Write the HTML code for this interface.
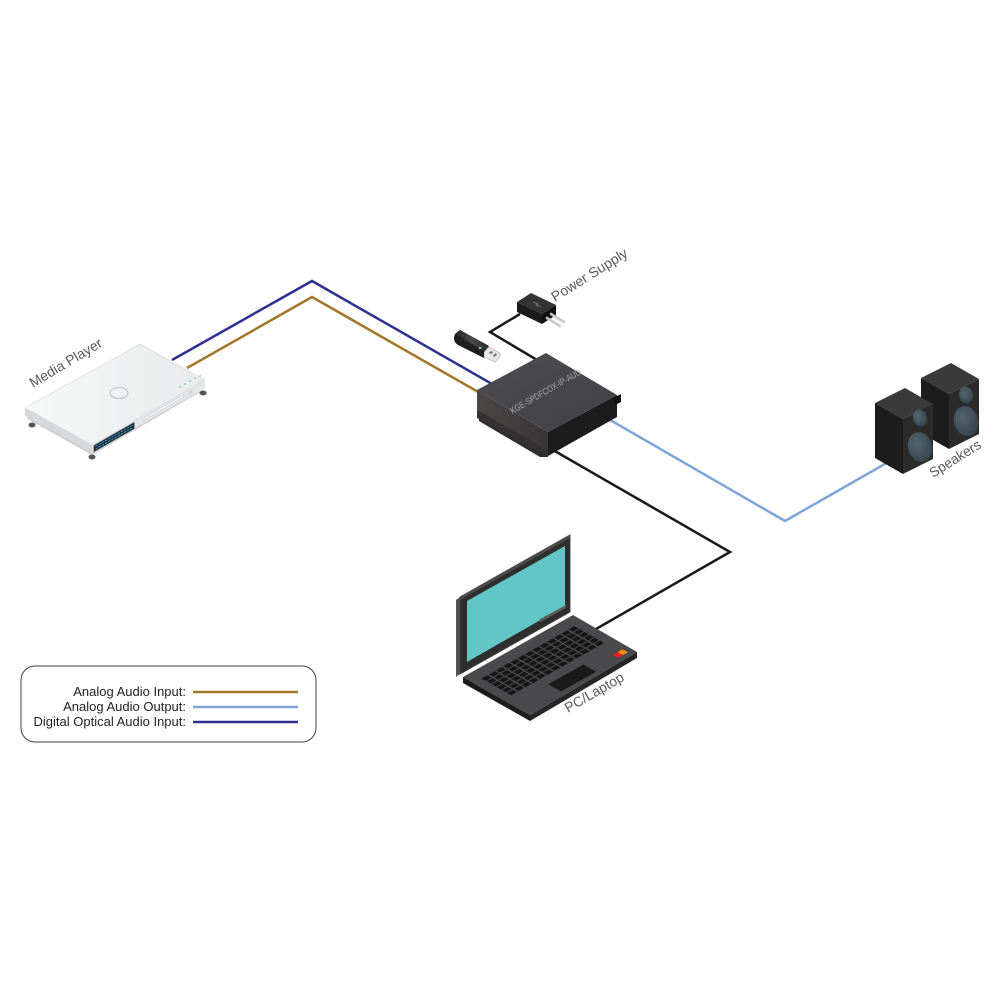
<!DOCTYPE html>
<html><head><meta charset="utf-8"><style>
html,body{margin:0;padding:0;background:#fff;}
svg{display:block;}
text{font-family:"Liberation Sans",sans-serif;}
</style></head><body>
<svg width="1000" height="1000" viewBox="0 0 1000 1000" xmlns="http://www.w3.org/2000/svg">
<defs>
 <linearGradient id="mpTop" x1="0" y1="0" x2="1" y2="0"><stop offset="0" stop-color="#f7f8f8"/><stop offset="1" stop-color="#e8eaeb"/></linearGradient>
 <linearGradient id="boxTop" x1="0" y1="0" x2="1" y2="1"><stop offset="0" stop-color="#4d4c50"/><stop offset="1" stop-color="#424145"/></linearGradient>
 <linearGradient id="boxLeft" x1="0" y1="0" x2="1" y2="0"><stop offset="0" stop-color="#4a4747"/><stop offset="1" stop-color="#383636"/></linearGradient>
 <linearGradient id="usb" x1="0" y1="0" x2="1" y2="0"><stop offset="0" stop-color="#222"/><stop offset="0.5" stop-color="#4a4a4a"/><stop offset="1" stop-color="#2a2a2a"/></linearGradient>
 <pattern id="keys" patternUnits="userSpaceOnUse" width="6.6" height="7.6"><rect x="0.6" y="0.7" width="5.3" height="6.1" fill="#161616"/></pattern>
 <radialGradient id="drv" cx="0.4" cy="0.35" r="0.75"><stop offset="0" stop-color="#56666d"/><stop offset="1" stop-color="#33414a"/></radialGradient>
</defs>
<rect width="1000" height="1000" fill="#fff"/>

<!-- cables -->
<polyline points="172,360 312,281 492,384" fill="none" stroke="#2e3192" stroke-width="2.5"/>
<polyline points="187,368 312,297 480,393" fill="none" stroke="#a3772c" stroke-width="2.5"/>
<polyline points="605,417 785,521 890,461" fill="none" stroke="#7da5d8" stroke-width="2.5"/>
<polyline points="553,450 730,552 596,629" fill="none" stroke="#1a1a1a" stroke-width="2.5"/>
<polyline points="537,360 490,332 520,314" fill="none" stroke="#1a1a1a" stroke-width="2.5"/>

<!-- media player -->
<g>
 <ellipse cx="32" cy="425" rx="3.5" ry="2.5" fill="#555"/>
 <ellipse cx="92" cy="457" rx="3.5" ry="2.5" fill="#555"/>
 <ellipse cx="203" cy="393" rx="3.5" ry="2.5" fill="#555"/>
 <polygon points="28,414 92,450 200,388 200,392 92,455 28,419" fill="#c8cacc"/>
 <polygon points="25,408 92,445 92,453 25,416" fill="#d6d8da"/>
 <polygon points="92,445 205,380 205,388 92,453" fill="#e4e6e7"/>
 <polygon points="25,408 140,344 205,380 92,445" fill="url(#mpTop)" stroke="#d3d5d7" stroke-width="0.6"/>
 <g transform="matrix(1.13,-0.65,0,1,92,445)">
  <rect x="1.5" y="1.5" width="36" height="6.5" fill="#1c2933"/>
  <line x1="3" y1="3.5" x2="36" y2="3.5" stroke="#3cb4e6" stroke-width="0.9" stroke-dasharray="2,0.8"/>
  <line x1="3" y1="6" x2="36" y2="6" stroke="#3cb4e6" stroke-width="0.9" stroke-dasharray="2,0.8"/>
  <rect x="45" y="2.5" width="36" height="2.5" fill="#f2f3f3" stroke="#b9bbbd" stroke-width="0.4"/>
  <rect x="86" y="2" width="3" height="4" fill="#d0d2d4"/>
 </g>
 <ellipse cx="119" cy="393" rx="9" ry="5.5" fill="none" stroke="#b3b5b7" stroke-width="0.8"/>
 <g stroke="#49b6e8" stroke-width="0.9">
  <line x1="180" y1="386" x2="180" y2="388"/>
  <line x1="185" y1="383" x2="185" y2="385"/>
  <line x1="190" y1="380" x2="190" y2="382"/>
  <line x1="195" y1="377" x2="195" y2="379"/>
  <line x1="200" y1="375" x2="200" y2="377"/>
 </g>
</g>
<text x="33" y="388" transform="rotate(-31 33 388)" font-size="14" fill="#5a5a5a" textLength="82" lengthAdjust="spacingAndGlyphs">Media Player</text>

<!-- USB stick -->
<g>
 <polygon points="484,352 489,347 500,353 500,357 495,362 484,357" fill="#e6e6e6" stroke="#999" stroke-width="0.5"/>
 <polygon points="489,352 492,351 493,353 490,354" fill="#777"/>
 <polygon points="493,355 496,353 497,355 494,357" fill="#777"/>
 <path d="M455,334 L460,330 L489,346 L484,352 L484,358 L458,345 Q452,341 455,334 Z" fill="#1f1f1f"/>
 <path d="M455,334 L460,330 L489,346 L484,351 Z" fill="url(#usb)"/>
 <circle cx="480" cy="348" r="1.2" fill="#7fd6e6"/>
</g>

<!-- power adapter -->
<g>
 <polygon points="517,302 542,314 542,324 517,312" fill="#1b1b1b"/>
 <polygon points="542,314 556,305 556,315 542,324" fill="#101010"/>
 <polygon points="517,302 531,293 556,305 542,314" fill="#333"/>
 <path d="M533,302 L538,304 L536,305 L541,307" fill="none" stroke="#888" stroke-width="0.7"/>
 <line x1="547" y1="318" x2="560" y2="326" stroke="#c8c8c8" stroke-width="2.5" stroke-linecap="round"/>
 <line x1="551" y1="314" x2="564" y2="322" stroke="#c8c8c8" stroke-width="2.5" stroke-linecap="round"/>
</g>
<text x="555" y="302" transform="rotate(-32 555 302)" font-size="14" fill="#5a5a5a" textLength="87" lengthAdjust="spacingAndGlyphs">Power Supply</text>

<!-- main box -->
<g>
 <polygon points="479,405 548,446 548,457 540,457 479,421" fill="#2f2d2d"/>
 <polygon points="477,390 548,432 548,450 477,410" fill="url(#boxLeft)"/>
 <polygon points="477,410 548,450 548,456 477,418" fill="#333131"/>
 <polygon points="548,432 617,395 617,417 548,456" fill="#1c1c1c"/>
 <polygon points="613,398 621,394 621,402 615,405" fill="#111"/>
 <polygon points="477,390 546,353 617,395 548,432" fill="url(#boxTop)"/>
 <text x="547" y="394" transform="rotate(-30 547 394)" font-size="9" fill="#a8a8a8" text-anchor="middle" textLength="80" lengthAdjust="spacingAndGlyphs">KGE-SPDFCOX-IP-AUD</text>
</g>

<!-- speakers -->
<g>
 <polygon points="921,378 949,394 949,449 921,433" fill="#1c1c1c"/>
 <polygon points="949,394 979,379 979,434 949,449" fill="#2b2b2b"/>
 <polygon points="921,378 951,363 979,379 949,394" fill="#3a3a3a"/>
 <ellipse cx="966" cy="421" rx="12" ry="15" transform="rotate(-15 966 421)" fill="url(#drv)"/>
 <ellipse cx="966" cy="395" rx="7" ry="8.5" transform="rotate(-15 966 395)" fill="url(#drv)"/>
 <polygon points="875,403 903,419 903,474 875,458" fill="#1c1c1c"/>
 <polygon points="903,419 933,404 933,459 903,474" fill="#2b2b2b"/>
 <polygon points="875,403 905,388 933,404 903,419" fill="#3a3a3a"/>
 <ellipse cx="920" cy="447" rx="12" ry="15" transform="rotate(-15 920 447)" fill="url(#drv)"/>
 <ellipse cx="920" cy="418" rx="7" ry="8.5" transform="rotate(-15 920 418)" fill="url(#drv)"/>
</g>
<text x="933" y="478" transform="rotate(-32 933 478)" font-size="14" fill="#5a5a5a" textLength="58" lengthAdjust="spacingAndGlyphs">Speakers</text>

<!-- laptop -->
<g>
 <polygon points="456,600 460,597 460,674 456,677" fill="#555"/>
 <polygon points="460,597 570,535 570,612 460,674" fill="#2e2e2e" stroke="#444" stroke-width="1"/>
 <polygon points="460,597 570,535 570,538 460,600" fill="#4a4a4a"/>
 <polygon points="467,601 565,546 565,606 467,662" fill="#63c6c6"/>
 <polygon points="540,619 566,605 566,608 540,622" fill="#5c5c5c"/>
 <polygon points="463,677 530,715 530,721 463,683" fill="#1c1c1c"/>
 <polygon points="530,715 637,652 637,658 530,721" fill="#262626"/>
 <polygon points="463,677 573,615 637,652 530,715" fill="#4a4a4d"/>
 <g transform="matrix(1.10,-0.62,0.67,0.38,463,677)">
  <rect x="6.6" y="15.2" width="85.8" height="45.6" fill="url(#keys)"/>
  <rect x="33" y="73" width="32" height="19" fill="#1a1a1a"/>
  <rect x="86" y="82" width="4.5" height="8" fill="#e02020"/>
  <rect x="90.5" y="82" width="4.5" height="8" fill="#f08a1c"/>
 </g>
</g>
<text x="568" y="713" transform="rotate(-30 568 713)" font-size="14" fill="#5a5a5a" textLength="66" lengthAdjust="spacingAndGlyphs">PC/Laptop</text>

<!-- legend -->
<rect x="21" y="666" width="295" height="76" rx="14" ry="14" fill="#fff" stroke="#444" stroke-width="1"/>
<text x="186" y="696" font-size="13" fill="#231f20" text-anchor="end">Analog Audio Input:</text>
<text x="186" y="711" font-size="13" fill="#231f20" text-anchor="end">Analog Audio Output:</text>
<text x="186" y="726" font-size="13" fill="#231f20" text-anchor="end">Digital Optical Audio Input:</text>
<line x1="193" y1="692" x2="298" y2="692" stroke="#a3772c" stroke-width="2.5"/>
<line x1="193" y1="707" x2="298" y2="707" stroke="#7da5d8" stroke-width="2.5"/>
<line x1="193" y1="722" x2="298" y2="722" stroke="#2e3192" stroke-width="2.5"/>
</svg>
</body></html>
